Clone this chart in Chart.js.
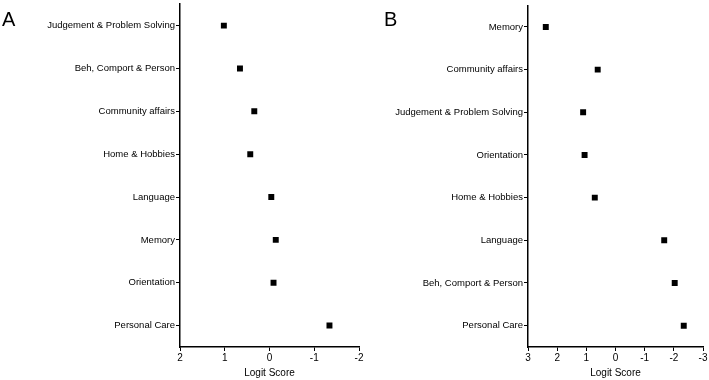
<!DOCTYPE html>
<html>
<head>
<meta charset="utf-8">
<script src="https://cdn.jsdelivr.net/npm/chart.js@4"></script>
<style>
  html, body { margin: 0; padding: 0; background: #fff; }
  body { width: 709px; height: 380px; position: relative; overflow: hidden; font-family: "Liberation Sans", Arial, sans-serif; }
  .panel { position: absolute; top: 0; height: 380px; }
  #wrapA { left: 0; width: 380px; }
  #wrapB { left: 354px; width: 355px; }
  .letter { position: absolute; top: 8px; font-size: 20px; color: #000; }
</style>
</head>
<body>
<div class="panel" id="wrapA"><canvas id="chartA"></canvas></div>
<div class="panel" id="wrapB"><canvas id="chartB"></canvas></div>
<div class="letter" style="left:2px">A</div>
<div class="letter" style="left:384px">B</div>
<script>
document.addEventListener('DOMContentLoaded', function () {
    const catsA = ['Judgement & Problem Solving', 'Beh, Comport & Person', 'Community affairs', 'Home & Hobbies',
                   'Language', 'Memory', 'Orientation', 'Personal Care'];
    const valuesA = [1.02, 0.66, 0.34, 0.43, -0.04, -0.14, -0.09, -1.34];

    const catsB = ['Memory', 'Community affairs', 'Judgement & Problem Solving', 'Orientation',
                   'Home & Hobbies', 'Language', 'Beh, Comport & Person', 'Personal Care'];
    const valuesB = [2.39, 0.61, 1.11, 1.06, 0.71, -1.67, -2.03, -2.34];

    const fontFamily = '"Liberation Sans", Arial, sans-serif';

    function makeChart(id, cats, values, xMax, yWidth, pad) {
        const ctx = document.getElementById(id).getContext('2d');
        return new Chart(ctx, {
            type: 'line',
            data: {
                labels: cats,
                datasets: [{
                    data: values,
                    showLine: false,
                    pointStyle: 'rect',
                    pointRadius: 4.2,
                    pointBorderWidth: 0,
                    backgroundColor: '#000',
                    borderColor: '#000'
                }]
            },
            options: {
                indexAxis: 'y',
                responsive: true,
                maintainAspectRatio: false,
                animation: false,
                layout: { padding: pad },
                plugins: {
                    legend: { display: false },
                    tooltip: { enabled: false }
                },
                scales: {
                    y: {
                        type: 'category',
                        offset: true,
                        afterFit: (s) => { s.width = yWidth; s.paddingTop = 0; s.paddingBottom = 0; },
                        grid: { drawOnChartArea: false, drawTicks: true, tickLength: 4, color: '#000', lineWidth: 1 },
                        border: { display: true, color: '#000', width: 1.5 },
                        ticks: { color: '#000', padding: 1, font: { family: fontFamily, size: 9.5 } }
                    },
                    x: {
                        type: 'linear',
                        reverse: true,
                        min: -xMax,
                        max: xMax,
                        afterFit: (s) => { s.height = 33; s.paddingLeft = 0; s.paddingRight = 0; },
                        grid: { drawOnChartArea: false, drawTicks: true, tickLength: 4, color: '#000', lineWidth: 1 },
                        border: { display: true, color: '#000', width: 1.5 },
                        ticks: { stepSize: 1, color: '#000', padding: 1, font: { family: fontFamily, size: 10 } },
                        title: {
                            display: true,
                            text: 'Logit Score',
                            color: '#000',
                            font: { family: fontFamily, size: 10 },
                            padding: { top: 4, bottom: 1 }
                        }
                    }
                }
            }
        });
    }

    makeChart('chartA', catsA, valuesA, 2, 180, { left: 0, top: 2.4, right: 21, bottom: 0 });
    makeChart('chartB', catsB, valuesB, 3, 174, { left: 0, top: 5.6, right: 6, bottom: 0 });
});
</script>
</body>
</html>
